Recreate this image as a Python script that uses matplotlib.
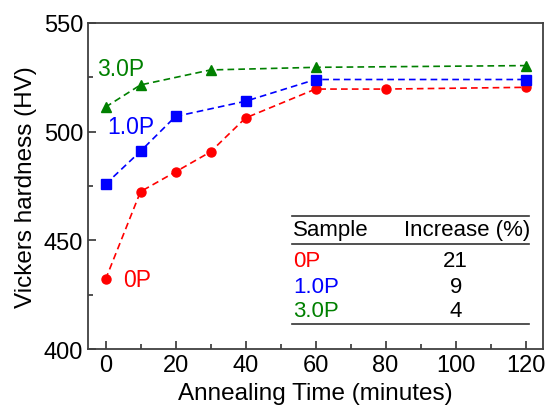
import matplotlib
matplotlib.use("Agg")
import matplotlib.pyplot as plt
from matplotlib.ticker import MultipleLocator

plt.rcParams['font.family'] = ['Liberation Sans', 'DejaVu Sans']

# Data
t_0p = [0, 10, 20, 30, 40, 60, 80, 120]
hv_0p = [432, 472.4, 481.5, 490.7, 506.3, 519.6, 519.6, 520.4]
t_10p = [0, 10, 20, 40, 60, 120]
hv_10p = [475.8, 491, 507, 514, 524, 524]
t_30p = [0, 10, 30, 60, 120]
hv_30p = [511.3, 521.5, 528.4, 529.6, 530.4]

samples = ["0P", "1.0P", "3.0P"]
increase = ["21", "9", "4"]
colors = ["#ff0000", "#0000ff", "#008000"]

fig = plt.figure(figsize=(5.47, 4.06), dpi=100)
ax = fig.add_axes([0.1609, 0.1379, 0.8318, 0.803])

ax.plot(t_0p, hv_0p, '--', color=colors[0], lw=1.2, marker='o', ms=6.5, mec=colors[0], mfc=colors[0], dashes=(4, 2.5))
ax.plot(t_10p, hv_10p, '--', color=colors[1], lw=1.2, marker='s', ms=6.5, mec=colors[1], mfc=colors[1], dashes=(4, 2.5))
ax.plot(t_30p, hv_30p, '--', color=colors[2], lw=1.2, marker='^', ms=7.5, mec=colors[2], mfc=colors[2], dashes=(4, 2.5))

ax.set_xlim(-5, 125)
ax.set_ylim(400, 550)
ax.xaxis.set_major_locator(MultipleLocator(20))
ax.xaxis.set_minor_locator(MultipleLocator(10))
ax.yaxis.set_major_locator(MultipleLocator(50))
ax.yaxis.set_minor_locator(MultipleLocator(25))
ax.tick_params(which='both', direction='in', top=False, right=False, labelsize=17, color='#333333')
ax.tick_params(which='major', length=6, width=1.2)
ax.tick_params(which='minor', length=3.5, width=1.2)
for s in ax.spines.values():
    s.set_color('#404040')
    s.set_linewidth(1.3)

ax.set_xlabel("Annealing Time (minutes)", fontsize=17.5, labelpad=4.5)
ax.set_ylabel("Vickers hardness (HV)", fontsize=17.5, labelpad=5)

# curve labels
ax.text(-2.5, 528.9, "3.0P", color=colors[2], fontsize=16.5, va='center', ha='left')
ax.text(0.4, 502.2, "1.0P", color=colors[1], fontsize=16.5, va='center', ha='left')
ax.text(4.9, 431.8, "0P", color=colors[0], fontsize=16.5, va='center', ha='left')

# table
for yl in [0.409, 0.322, 0.077]:
    ax.plot([0.448, 0.969], [yl, yl], color='#333333', lw=1.2, transform=ax.transAxes, clip_on=False)
ax.text(0.451, 0.368, "Sample", fontsize=16, va='center', ha='left', transform=ax.transAxes)
ax.text(0.834, 0.368, "Increase (%)", fontsize=16, va='center', ha='center', transform=ax.transAxes)
row_y = [0.271, 0.193, 0.117]
for s, inc, c, yy in zip(samples, increase, colors, row_y):
    ax.text(0.451, yy, s, color=c, fontsize=16, va='center', ha='left', transform=ax.transAxes)
    ax.text(0.808, yy, inc, color='black', fontsize=16, va='center', ha='center', transform=ax.transAxes)

fig.savefig("out.png", dpi=100)
